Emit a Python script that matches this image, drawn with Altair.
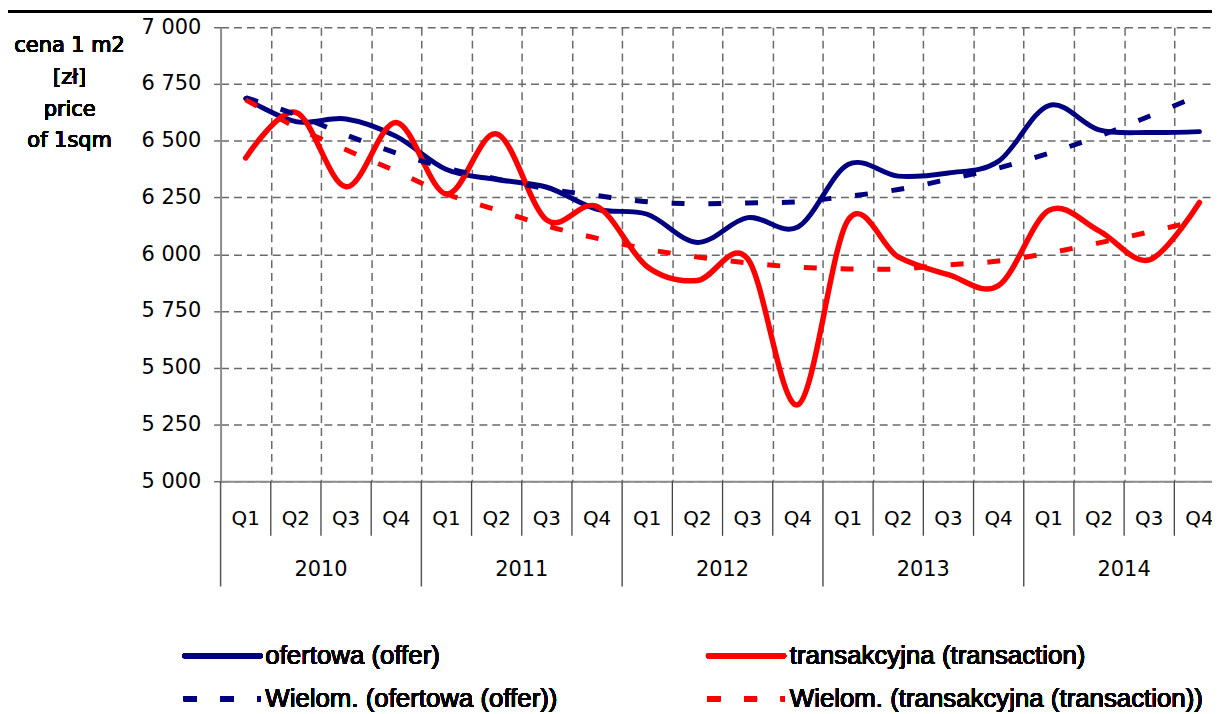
import altair as alt
import pandas as pd

years = ["2010", "2011", "2012", "2013", "2014"]
quarters = ["Q1", "Q2", "Q3", "Q4"]

offer = [6686, 6584, 6596, 6519, 6373, 6329, 6295, 6198, 6176, 6052,
         6161, 6120, 6395, 6344, 6358, 6410, 6655, 6548, 6536, 6540]
transaction = [6424, 6625, 6297, 6580, 6265, 6530, 6150, 6210, 5945, 5884,
               5980, 5337, 6150, 5988, 5910, 5862, 6193, 6103, 5975, 6228]
offer_trend = [6690, 6615, 6525, 6446, 6380, 6332, 6288, 6258, 6231, 6222,
               6226, 6231, 6255, 6285, 6330, 6380, 6445, 6520, 6608, 6700]
transaction_trend = [6680, 6560, 6460, 6365, 6265, 6195, 6125, 6070, 6022, 5988,
                     5962, 5943, 5935, 5935, 5953, 5970, 6005, 6050, 6098, 6150]
y_ticks = [5000, 5250, 5500, 5750, 6000, 6250, 6500, 6750, 7000]
y_title = ["cena 1 m2", "[zł]", "price", "of 1sqm"]
series_names = ["ofertowa (offer)", "transakcyjna (transaction)",
                "Wielom. (ofertowa (offer))", "Wielom. (transakcyjna (transaction))"]

NAVY = "#000080"
RED = "#FF0000"
GRID = "#6a6a6a"
AXIS = "#8c8c8c"
FONT = "DejaVu Sans"
LEG_FONT = "Liberation Sans"

W, H = 998, 457
QW = 50.53
XMAX = W / QW

rows = []
for yi, yr in enumerate(years):
    for qi, q in enumerate(quarters):
        i = yi * 4 + qi
        rows.append({"year": yr, "quarter": q, "pos": i + 0.5,
                     "offer": offer[i], "transaction": transaction[i],
                     "offer_trend": offer_trend[i],
                     "transaction_trend": transaction_trend[i]})
df = pd.DataFrame(rows)
year_df = pd.DataFrame({"year": years, "pos": [4 * i + 2 for i in range(len(years))]})
qsep_df = pd.DataFrame({"pos": [k for k in range(1, 20) if k % 4 != 0]})
ysep_df = pd.DataFrame({"pos": [k for k in range(0, 20) if k % 4 == 0]})

xscale = alt.Scale(domain=[0, XMAX], nice=False, zero=False)
yscale = alt.Scale(domain=[5000, 7000], nice=False, zero=False)

x_enc = alt.X("pos:Q", scale=xscale,
              axis=alt.Axis(values=list(range(1, 20)), grid=True, gridDash=[8, 5],
                            gridColor=GRID, gridWidth=1.5, labels=False, ticks=False,
                            domain=True, domainColor=AXIS, domainWidth=2, title=None))


def y_enc(field):
    return alt.Y(f"{field}:Q", scale=yscale,
                 axis=alt.Axis(values=y_ticks, grid=True, gridDash=[8, 5], gridColor=GRID,
                               gridWidth=1.5, tickSize=7, tickColor=GRID, tickWidth=1.5,
                               labelPadding=13, labelFont=FONT, labelFontSize=21,
                               labelColor="black",
                               labelExpr="replace(format(datum.value, ','), ',', ' ')",
                               domainColor=AXIS, domainWidth=2, title=None))


base = alt.Chart(df)
offer_line = base.mark_line(color=NAVY, strokeWidth=5, interpolate="cardinal",
                            strokeCap="round", strokeJoin="round").encode(x=x_enc, y=y_enc("offer"))
trans_line = base.mark_line(color=RED, strokeWidth=5.5, interpolate="cardinal",
                            strokeCap="round", strokeJoin="round").encode(x=x_enc, y=y_enc("transaction"))
offer_tr = base.mark_line(color=NAVY, strokeWidth=5, interpolate="cardinal",
                          strokeDash=[13, 24], strokeCap="butt").encode(x=x_enc, y=y_enc("offer_trend"))
trans_tr = base.mark_line(color=RED, strokeWidth=5, interpolate="cardinal",
                          strokeDash=[13, 24], strokeCap="butt").encode(x=x_enc, y=y_enc("transaction_trend"))

q_labels = base.mark_text(font=FONT, fontSize=20, color="black", baseline="middle").encode(
    x=alt.X("pos:Q", scale=xscale), y=alt.value(495), text="quarter:N")
y_labels = alt.Chart(year_df).mark_text(font=FONT, fontSize=21, color="black", baseline="middle").encode(
    x=alt.X("pos:Q", scale=xscale), y=alt.value(546), text="year:N")
q_seps = alt.Chart(qsep_df).mark_rule(color="#444444", strokeWidth=1.3).encode(
    x=alt.X("pos:Q", scale=xscale), y=alt.value(457), y2=alt.value(512))
y_seps = alt.Chart(ysep_df).mark_rule(color="#555555", strokeWidth=1.5).encode(
    x=alt.X("pos:Q", scale=xscale), y=alt.value(457), y2=alt.value(563))

title_txt = alt.Chart(df).mark_text(font=FONT, fontSize=21, color="black", align="center",
                                    baseline="alphabetic", lineHeight=32).encode(
    x=alt.value(-152), y=alt.value(25), text=alt.value(y_title))

top_line = alt.Chart(df).mark_rule(color="black", strokeWidth=2.5).encode(
    x=alt.value(-214), x2=alt.value(W), y=alt.value(-15.5))

leg = []
leg.append(alt.Chart(df).mark_rule(color=NAVY, strokeWidth=5, strokeCap="round").encode(
    x=alt.value(-36), x2=alt.value(40), y=alt.value(633)))
leg.append(alt.Chart(df).mark_rule(color=RED, strokeWidth=5, strokeCap="round").encode(
    x=alt.value(491), x2=alt.value(567), y=alt.value(633)))
leg.append(alt.Chart(df).mark_rule(color=NAVY, strokeWidth=5, strokeDash=[13, 24]).encode(
    x=alt.value(-37), x2=alt.value(40), y=alt.value(676)))
leg.append(alt.Chart(df).mark_rule(color=RED, strokeWidth=5, strokeDash=[13, 24]).encode(
    x=alt.value(490), x2=alt.value(568), y=alt.value(676)))
for name, lx, ly in [(series_names[0], 45, 633), (series_names[1], 573, 633),
                     (series_names[2], 45, 676), (series_names[3], 573, 676)]:
    leg.append(alt.Chart(df).mark_text(font=LEG_FONT, fontSize=26, color="black", align="left",
                                       baseline="middle").encode(
        x=alt.value(lx), y=alt.value(ly), text=alt.value(name)))

chart = alt.layer(offer_line, trans_line, offer_tr, trans_tr, q_labels, y_labels, q_seps, y_seps,
                  title_txt, top_line, *leg).properties(
    width=W, height=H,
    autosize=alt.AutoSizeParams(type="none"),
    padding={"left": 214, "top": 17, "right": 0, "bottom": 232},
).configure_view(stroke=None)

chart.save("out.html", embed_options={"renderer": "svg", "actions": False})
